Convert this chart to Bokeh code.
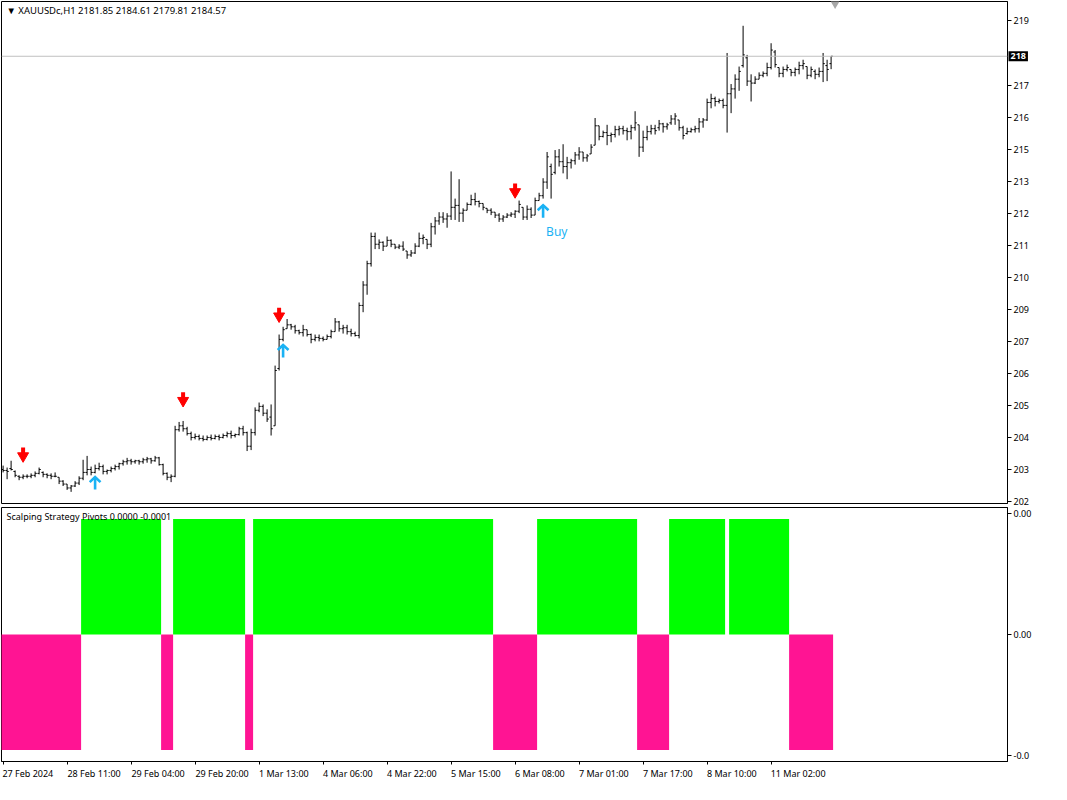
from bokeh.plotting import figure
from bokeh.models import (FixedTicker, Range1d, Span, Label, ColumnDataSource,
                          CustomJSTickFormatter)
from bokeh.layouts import column
from bokeh.embed import file_html
from bokeh.resources import INLINE
from bokeh.core.properties import value

# ---------------- data ----------------
title_text = "\u25bc XAUUSDc,H1  2181.85 2184.61 2179.81 2184.57"
indicator_title = "Scalping Strategy Pivots 0.0000 -0.0001"

opens = [
    2032.12, 2031.77, 2032.48, 2031.41, 2029.62, 2029.26, 2029.62, 2029.62, 2029.97, 2030.69,
    2031.05, 2030.33, 2029.97, 2029.62, 2029.26, 2027.82, 2026.75, 2025.31, 2026.03, 2027.11,
    2028.90, 2031.05, 2032.12, 2031.05, 2032.48, 2033.20, 2031.41, 2031.77, 2032.48, 2033.20,
    2034.27, 2034.99, 2035.35, 2034.99, 2035.35, 2034.99, 2035.71, 2036.06, 2035.35, 2036.42,
    2033.92, 2030.69, 2029.26, 2029.62, 2046.80, 2048.24, 2047.16, 2045.37, 2043.94, 2044.30,
    2043.58, 2043.22, 2043.94, 2043.58, 2044.30, 2043.94, 2044.66, 2045.37, 2044.66, 2045.01,
    2047.16, 2045.73, 2040.71, 2045.73, 2053.97, 2055.40, 2052.89, 2051.46, 2048.24, 2069.37,
    2080.12, 2084.06, 2085.49, 2084.77, 2083.34, 2082.62, 2083.70, 2081.91, 2080.12, 2080.83,
    2080.48, 2080.12, 2081.19, 2082.98, 2086.57, 2084.06, 2084.42, 2082.98, 2082.27, 2081.55,
    2092.65, 2100.18, 2108.06, 2118.09, 2115.22, 2115.94, 2114.51, 2116.65, 2115.22, 2114.15,
    2114.51, 2112.72, 2111.28, 2112.00, 2114.51, 2117.37, 2117.01, 2115.22, 2121.67, 2123.82,
    2125.25, 2124.54, 2125.61, 2128.84, 2129.55, 2126.69, 2127.76, 2129.91, 2131.70, 2130.98,
    2130.27, 2128.48, 2127.76, 2127.05, 2125.97, 2124.54, 2125.25, 2125.97, 2126.33, 2127.40,
    2128.84, 2125.25, 2128.12, 2125.97, 2131.34, 2133.13, 2138.15, 2143.88, 2141.73, 2147.46,
    2145.67, 2143.88, 2145.31, 2146.03, 2148.17, 2149.25, 2147.10, 2148.53, 2151.76, 2158.92,
    2154.98, 2156.41, 2155.34, 2155.70, 2157.49, 2157.85, 2157.13, 2156.77, 2158.21, 2159.28,
    2151.04, 2154.62, 2156.77, 2157.85, 2158.21, 2159.64, 2158.56, 2160.00, 2161.43, 2161.07,
    2158.21, 2156.06, 2156.77, 2157.49, 2157.85, 2160.35, 2161.07, 2167.52, 2168.95, 2167.88,
    2168.23, 2166.44, 2170.74, 2172.53, 2176.11, 2181.13, 2183.99, 2175.40, 2174.68, 2176.11,
    2177.55, 2178.26, 2180.41, 2186.14, 2180.41, 2178.26, 2179.70, 2179.70, 2178.62, 2179.70,
    2181.13, 2180.77, 2177.55, 2178.98, 2177.90, 2178.98, 2181.13, 2181.85,
]
highs = [
    2033.56, 2032.84, 2035.35, 2031.77, 2029.97, 2030.33, 2030.33, 2030.69, 2031.41, 2032.84,
    2031.41, 2030.69, 2030.69, 2031.05, 2029.26, 2028.18, 2026.75, 2026.39, 2027.82, 2029.62,
    2035.71, 2037.14, 2033.20, 2033.92, 2034.63, 2033.92, 2032.12, 2033.20, 2033.92, 2034.63,
    2035.71, 2036.42, 2036.06, 2035.71, 2035.71, 2036.42, 2036.78, 2036.42, 2037.14, 2036.78,
    2034.27, 2031.05, 2030.33, 2048.24, 2049.67, 2050.03, 2047.88, 2046.09, 2045.37, 2045.01,
    2044.66, 2044.66, 2045.01, 2045.01, 2045.01, 2045.37, 2046.09, 2046.45, 2045.37, 2047.88,
    2048.24, 2046.09, 2047.16, 2055.04, 2056.83, 2056.12, 2054.33, 2056.12, 2070.45, 2081.91,
    2084.77, 2087.64, 2085.85, 2085.49, 2083.70, 2085.49, 2083.70, 2082.27, 2081.91, 2081.91,
    2081.19, 2081.91, 2083.70, 2088.00, 2086.93, 2085.49, 2085.49, 2084.06, 2082.98, 2093.73,
    2101.61, 2109.13, 2119.52, 2119.52, 2117.01, 2116.30, 2118.09, 2117.01, 2115.22, 2115.22,
    2116.30, 2112.72, 2113.07, 2115.58, 2119.52, 2118.80, 2117.01, 2123.10, 2125.25, 2127.05,
    2127.05, 2126.69, 2142.08, 2132.06, 2139.22, 2128.48, 2130.63, 2133.49, 2134.21, 2131.34,
    2130.27, 2128.48, 2128.48, 2127.05, 2126.69, 2125.97, 2126.69, 2127.05, 2127.76, 2131.34,
    2128.84, 2129.55, 2128.84, 2132.42, 2134.21, 2139.58, 2149.25, 2144.95, 2149.97, 2150.33,
    2152.12, 2147.46, 2146.74, 2149.25, 2151.04, 2149.25, 2148.53, 2152.12, 2161.79, 2158.92,
    2157.13, 2159.28, 2156.41, 2158.92, 2158.92, 2158.92, 2158.21, 2159.28, 2164.29, 2159.28,
    2157.13, 2158.92, 2159.28, 2159.28, 2161.07, 2160.00, 2160.00, 2162.86, 2163.58, 2161.07,
    2158.92, 2158.21, 2158.21, 2158.92, 2161.79, 2161.79, 2168.95, 2170.74, 2169.67, 2168.95,
    2168.95, 2185.78, 2174.32, 2177.90, 2180.77, 2195.81, 2185.07, 2177.90, 2177.19, 2178.62,
    2178.98, 2182.20, 2189.37, 2186.86, 2180.41, 2180.77, 2181.49, 2179.70, 2180.41, 2182.56,
    2183.28, 2180.77, 2180.77, 2179.70, 2180.41, 2185.78, 2183.28, 2184.61,
]
lows = [
    2031.05, 2028.54, 2031.77, 2029.26, 2028.18, 2028.54, 2028.90, 2028.90, 2029.26, 2030.33,
    2029.26, 2028.90, 2028.54, 2029.26, 2026.75, 2026.03, 2024.60, 2023.88, 2025.67, 2026.39,
    2028.18, 2029.97, 2029.97, 2030.69, 2031.77, 2030.33, 2030.33, 2031.05, 2031.77, 2032.12,
    2033.56, 2033.92, 2033.92, 2034.27, 2033.92, 2034.27, 2034.63, 2034.27, 2034.99, 2033.56,
    2029.97, 2028.18, 2027.46, 2029.26, 2046.09, 2046.09, 2044.66, 2042.86, 2043.22, 2042.86,
    2042.51, 2042.86, 2042.86, 2043.22, 2042.86, 2043.58, 2043.94, 2043.58, 2043.94, 2044.66,
    2044.66, 2038.93, 2039.28, 2044.66, 2053.25, 2051.82, 2049.67, 2044.66, 2048.24, 2068.65,
    2079.40, 2084.06, 2083.70, 2082.27, 2081.91, 2081.19, 2081.19, 2078.69, 2079.40, 2079.40,
    2079.40, 2080.12, 2080.48, 2082.98, 2082.98, 2082.27, 2081.91, 2081.19, 2081.19, 2080.48,
    2090.15, 2096.59, 2106.98, 2113.43, 2113.43, 2112.72, 2114.51, 2114.15, 2113.43, 2113.43,
    2112.72, 2109.85, 2110.57, 2111.64, 2114.15, 2115.22, 2113.43, 2114.15, 2118.80, 2122.39,
    2123.10, 2121.31, 2124.18, 2124.18, 2123.46, 2123.46, 2127.76, 2129.55, 2129.55, 2128.84,
    2127.76, 2126.69, 2125.97, 2124.90, 2123.46, 2123.46, 2124.90, 2125.25, 2124.90, 2126.69,
    2124.18, 2124.18, 2124.90, 2125.97, 2131.34, 2132.06, 2135.64, 2132.06, 2141.01, 2143.88,
    2141.37, 2139.22, 2143.16, 2144.59, 2146.38, 2145.67, 2145.67, 2148.53, 2151.76, 2153.55,
    2154.62, 2151.76, 2152.83, 2154.62, 2155.34, 2155.70, 2153.55, 2153.91, 2157.13, 2147.46,
    2149.25, 2153.55, 2155.70, 2155.70, 2157.13, 2156.41, 2157.49, 2159.28, 2159.28, 2157.13,
    2153.91, 2155.70, 2156.41, 2156.41, 2156.41, 2158.21, 2160.71, 2165.37, 2166.08, 2167.16,
    2165.37, 2156.41, 2163.58, 2168.95, 2171.82, 2180.41, 2173.61, 2167.88, 2174.32, 2176.11,
    2176.83, 2177.19, 2179.70, 2180.41, 2176.83, 2176.83, 2178.98, 2177.19, 2177.19, 2177.90,
    2179.70, 2176.11, 2176.83, 2176.11, 2176.83, 2175.04, 2175.40, 2179.81,
]
closes = [
    2031.77, 2031.41, 2032.12, 2029.97, 2029.26, 2029.62, 2029.62, 2029.97, 2030.69, 2032.12,
    2030.33, 2029.97, 2029.62, 2029.62, 2027.82, 2026.75, 2025.31, 2026.03, 2027.11, 2028.90,
    2031.05, 2032.12, 2031.05, 2032.48, 2033.20, 2031.41, 2031.77, 2032.48, 2033.20, 2034.27,
    2034.99, 2035.35, 2034.99, 2035.35, 2034.99, 2035.71, 2036.06, 2035.35, 2036.42, 2033.92,
    2030.69, 2029.26, 2029.62, 2046.80, 2048.24, 2047.16, 2045.37, 2043.94, 2044.30, 2043.58,
    2043.22, 2043.94, 2043.58, 2044.30, 2043.94, 2044.66, 2045.37, 2044.66, 2045.01, 2047.16,
    2045.73, 2040.71, 2045.73, 2053.97, 2055.40, 2052.89, 2050.74, 2047.16, 2068.65, 2080.12,
    2083.70, 2085.49, 2084.77, 2083.34, 2082.62, 2083.70, 2081.91, 2080.12, 2080.83, 2080.48,
    2080.12, 2081.19, 2082.98, 2086.57, 2084.06, 2084.42, 2082.98, 2082.27, 2081.55, 2092.65,
    2100.18, 2108.06, 2118.09, 2115.22, 2115.94, 2114.51, 2116.65, 2115.22, 2114.15, 2114.51,
    2113.43, 2111.28, 2112.00, 2114.51, 2117.37, 2117.73, 2115.22, 2121.67, 2123.82, 2125.25,
    2124.54, 2125.61, 2128.84, 2129.55, 2126.69, 2127.76, 2129.91, 2131.70, 2130.98, 2130.27,
    2128.84, 2127.76, 2127.05, 2125.97, 2124.54, 2125.25, 2125.97, 2126.33, 2127.40, 2129.91,
    2125.25, 2128.12, 2125.97, 2131.34, 2133.13, 2138.15, 2147.46, 2141.01, 2147.46, 2145.67,
    2143.88, 2145.31, 2146.03, 2148.17, 2149.25, 2147.10, 2147.82, 2151.04, 2158.92, 2154.98,
    2156.41, 2155.34, 2155.70, 2157.49, 2157.85, 2157.13, 2156.77, 2158.21, 2160.00, 2151.04,
    2154.62, 2156.77, 2157.85, 2157.13, 2159.64, 2158.56, 2159.28, 2161.43, 2162.50, 2158.21,
    2155.34, 2156.77, 2157.49, 2157.85, 2160.35, 2161.07, 2167.52, 2168.95, 2167.88, 2168.23,
    2166.44, 2170.74, 2172.53, 2176.11, 2178.98, 2185.07, 2175.40, 2174.68, 2176.11, 2177.55,
    2178.26, 2180.41, 2186.86, 2181.49, 2178.26, 2179.70, 2180.41, 2178.62, 2179.70, 2181.13,
    2181.85, 2177.55, 2179.70, 2177.90, 2178.98, 2181.85, 2179.70, 2184.57,
]

# signal arrows (bar index, price)
sell_idx = [5, 45, 69, 128]
sell_price = [2037.85, 2058.27, 2089.43, 2135.28]
buy_idx = [23, 70, 135]
buy_price = [2027.11, 2075.82, 2127.40]
buy_label_idx = [135]
buy_label_price = [2127.40]
buy_label_text = ["Buy"]

# indicator histogram: runs of bars (start, end, value)
seg_start = [0, 20, 40, 43, 61, 63, 123, 134, 159, 167, 182, 197]
seg_end = [19, 39, 42, 60, 62, 122, 133, 158, 166, 180, 196, 207]
seg_value = [-0.0001, 0.0001, -0.0001, 0.0001, -0.0001, 0.0001,
             -0.0001, 0.0001, -0.0001, 0.0001, 0.0001, -0.0001]

# axes
price_ticks = [2020.30, 2032.12, 2043.94, 2055.76, 2067.58, 2079.40, 2091.22, 2103.04,
               2114.86, 2126.68, 2138.50, 2150.32, 2162.14, 2173.96, 2197.60]
price_tick_labels = ["202", "203", "204", "205", "206", "207", "209", "210",
                     "211", "212", "213", "215", "216", "217", "219"]
price_min, price_max = 2019.58, 2204.77
current_price_label = "218"

ind_ticks = [0.000105, 0.0, -0.000105]
ind_tick_labels = ["0.00", "0.00", "-0.0"]
ind_min, ind_max = -0.00011, 0.00011

time_tick_idx = [0, 16, 32, 48, 64, 80, 96, 112, 128, 144, 160, 176, 192]
time_labels = ["27 Feb 2024", "28 Feb 11:00", "29 Feb 04:00", "29 Feb 20:00",
               "1 Mar 13:00", "4 Mar 06:00", "4 Mar 22:00", "5 Mar 15:00",
               "6 Mar 08:00", "7 Mar 01:00", "7 Mar 17:00", "8 Mar 10:00",
               "11 Mar 02:00"]
shift_marker_idx = [208]

# ---------------- layout ----------------
FONT = "Noto Sans"
W = 1051
BL, BR = 1, 44
PX_PER_BAR = 4.0
frame_w = W - BL - BR
x_start = -0.4
x_end = x_start + frame_w / PX_PER_BAR
xr = Range1d(x_start, x_end)

H1, H2 = 507, 276
T1, B1 = 1, 4
T2, B2 = 0, 22
frame_h1 = H1 - T1 - B1
ppx = (price_max - price_min) / frame_h1  # price per pixel

BLUE = "#1AB2F4"
GREEN = "#00FF00"
PINK = "#FF1493"


def nearest_formatter(tvals, tlabels):
    return CustomJSTickFormatter(args=dict(tvals=tvals, tlabels=tlabels), code="""
        let best = 0, bd = Infinity;
        for (let i = 0; i < tvals.length; i++) {
            const d = Math.abs(tvals[i] - tick);
            if (d < bd) { bd = d; best = i; }
        }
        return tlabels[best];
    """)


# ---------------- main price panel ----------------
p1 = figure(width=W, height=H1, x_range=xr, y_range=Range1d(price_min, price_max),
            output_backend="svg", toolbar_location=None,
            min_border_left=BL, min_border_right=BR, min_border_top=T1, min_border_bottom=B1,
            x_axis_location=None, y_axis_location="right")
p1.grid.visible = False
p1.outline_line_color = "black"
p1.outline_line_alpha = 1
p1.background_fill_color = "white"
p1.border_fill_color = "white"

ya = p1.yaxis[0]
ya.ticker = FixedTicker(ticks=price_ticks)
ya.formatter = nearest_formatter(price_ticks, price_tick_labels)
ya.major_tick_out = 4
ya.major_tick_in = 0
ya.minor_tick_line_color = None
ya.axis_line_color = "black"
ya.major_tick_line_color = "black"
ya.major_label_standoff = 2
ya.major_label_text_font = FONT
ya.major_label_text_font_size = "9px"
ya.major_label_text_color = "black"

idx = list(range(len(closes)))
src = ColumnDataSource(dict(
    x=idx, o=opens, h=highs, l=lows, c=closes,
    xl=[i - 0.42 for i in idx], xr=[i + 0.42 for i in idx]))
p1.segment(x0="x", y0="l", x1="x", y1="h", source=src, line_color="black", line_width=1)
p1.segment(x0="xl", y0="o", x1="x", y1="o", source=src, line_color="black", line_width=1)
p1.segment(x0="x", y0="c", x1="xr", y1="c", source=src, line_color="black", line_width=1)

# bid line
p1.add_layout(Span(location=closes[-1], dimension="width", line_color="#C0C0C0", line_width=1))

# sell arrows (red, pointing down)
p1.rect(x=sell_idx, y=[v + 3.4 * ppx for v in sell_price], width=4, height=6,
        width_units="screen", height_units="screen", fill_color="#FF0000", line_color=None)
p1.scatter(x=sell_idx, y=[v - 2.0 * ppx for v in sell_price], marker="inverted_triangle",
           size=11, fill_color="#FF0000", line_color="#FF0000", line_width=1)

# buy arrows (blue, pointing up)
bx, by = [], []
for i, v in zip(buy_idx, buy_price):
    top = v + 6.0 * ppx
    bot = v - 6.5 * ppx
    bx.append([i, i])
    by.append([bot, top])
    bx.append([i - 1.35, i, i + 1.35])
    by.append([top - 5.0 * ppx, top, top - 5.0 * ppx])
p1.multi_line(xs=bx, ys=by, line_color=BLUE, line_width=2.6, line_join="miter")

p1.text(x=buy_label_idx, y=buy_label_price, text=buy_label_text, x_offset=3, y_offset=12,
        text_font=value(FONT), text_font_size="12px", text_color=BLUE,
        text_align="left", text_baseline="top")

# chart-shift marker
p1.scatter(x=shift_marker_idx, y=[price_max], marker="inverted_triangle", size=13,
           fill_color="#A8A8A8", line_color=None)

p1.add_layout(Label(x=5, y=price_max, x_units="screen", y_units="data", y_offset=-9,
                    text=title_text, text_font=FONT, text_font_size="9.5px",
                    text_color="black", text_baseline="middle"))

# current price box on the price scale: placed in the right-hand side panel so
# that it is not clipped to the plotting frame (positioned in data units)
p1.add_layout(Label(x=x_end, y=closes[-1], x_units="data", y_units="data", x_offset=1,
                    text=current_price_label, text_font=FONT, text_font_size="9px",
                    text_color="white", text_font_style="bold",
                    background_fill_color="black", text_baseline="middle",
                    text_align="left", padding=2), "right")

# ---------------- indicator panel ----------------
p2 = figure(width=W, height=H2, x_range=xr, y_range=Range1d(ind_min, ind_max),
            output_backend="svg", toolbar_location=None,
            min_border_left=BL, min_border_right=BR, min_border_top=T2, min_border_bottom=B2,
            x_axis_location="below", y_axis_location="right")
p2.grid.visible = False
p2.outline_line_color = "black"
p2.background_fill_color = "white"
p2.border_fill_color = "white"

qsrc = ColumnDataSource(dict(
    left=[s - 0.5 for s in seg_start],
    right=[e + 0.5 for e in seg_end],
    top=[max(v, 0.0) for v in seg_value],
    bottom=[min(v, 0.0) for v in seg_value],
    color=[GREEN if v > 0 else PINK for v in seg_value]))
p2.quad(left="left", right="right", top="top", bottom="bottom", source=qsrc,
        fill_color="color", line_color=None)

ya2 = p2.yaxis[0]
ya2.ticker = FixedTicker(ticks=ind_ticks)
ya2.formatter = nearest_formatter(ind_ticks, ind_tick_labels)
ya2.major_tick_out = 4
ya2.major_tick_in = 0
ya2.minor_tick_line_color = None
ya2.axis_line_color = "black"
ya2.major_label_standoff = 2
ya2.major_label_text_font = FONT
ya2.major_label_text_font_size = "9px"
ya2.major_label_text_color = "black"

# time axis: labels start at their tick (centre shifted by half label width)
label_centres = [i + len(t) * 2.25 / PX_PER_BAR for i, t in zip(time_tick_idx, time_labels)]
xa = p2.xaxis[0]
xa.ticker = FixedTicker(ticks=label_centres, minor_ticks=time_tick_idx)
xa.formatter = nearest_formatter(label_centres, time_labels)
xa.major_tick_line_color = None
xa.major_tick_out = 3
xa.major_tick_in = 0
xa.minor_tick_line_color = "black"
xa.minor_tick_out = 3
xa.minor_tick_in = 0
xa.axis_line_color = "black"
xa.major_label_standoff = 2
xa.major_label_text_font = FONT
xa.major_label_text_font_size = "9px"
xa.major_label_text_color = "black"

p2.add_layout(Label(x=5, y=ind_max, x_units="screen", y_units="data", y_offset=-9,
                    text=indicator_title, text_font=FONT, text_font_size="9px",
                    text_color="black", text_baseline="middle"))

layout = column(p1, p2, spacing=0)
open("out.html", "w").write(file_html(layout, INLINE))
